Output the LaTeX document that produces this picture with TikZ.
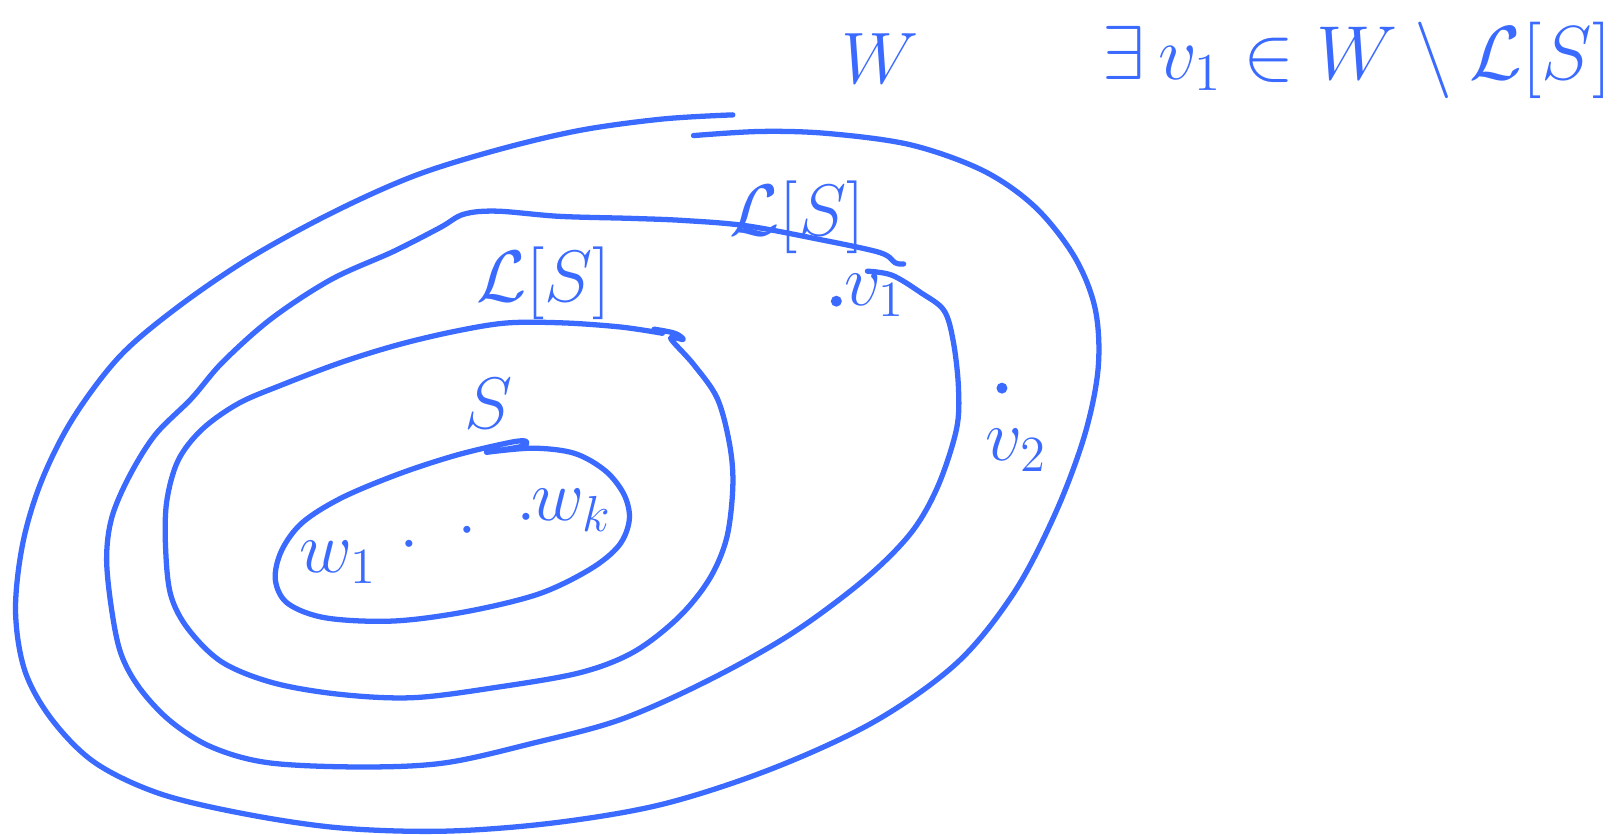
\documentclass[tikz,border=0pt]{standalone}
\usepackage{amsmath,amssymb}
\usepackage{graphicx}
\usepackage{xcolor}
\usepackage{tikz}
\definecolor{inkblue}{RGB}{58,106,255}

\begin{document}
\begin{tikzpicture}[
		x=0.1035mm, y=-0.1035mm,
		pen/.style={draw=inkblue, line width=1.5pt, line cap=round, line join=round},
		lbl/.style={text=inkblue, inner sep=0pt, font=\fontsize{21}{25}\selectfont},
		biglbl/.style={text=inkblue, inner sep=0pt, font=\fontsize{17.28}{21}\selectfont},
		pt/.style={circle, fill=inkblue, inner sep=0pt, minimum size=1.1mm}
		]
		\useasboundingbox (0,0) rectangle (1568,806);
		
		% outer region W
		\draw[pen] plot[smooth, tension=0.55] coordinates {
			(708,111) (640,115) (560,126) (480,145) (400,170) (320,206) (240,250)
			(170,298) (115,345) (70,405) (40,465) (22,525) (15,590) (24,648)
			(50,695) (92,737) (155,767) (240,787) (330,800) (430,803) (535,795)
			(640,777) (745,743) (845,697) (925,640) (980,572) (1020,495)
			(1048,420) (1061,355) (1058,298) (1038,248) (1000,200) (950,165)
			(880,140) (800,129) (735,127) (670,131)};
		
		% second curve
		\draw[pen] plot[smooth, tension=0.55] coordinates {
			(838,262) (862,266) (890,283) (912,300) (921,330) (926,375)
			(924,415) (906,470) (880,515) (835,560) (765,612) (685,657)
			(600,695) (515,718) (430,737) (350,741) (260,737) (205,722)
			(165,697) (135,665) (117,632) (108,590) (103,540) (108,500)
			(125,460) (150,420) (185,385) (215,350) (262,308) (320,270)
			(380,243) (425,220) (448,207) (480,204) (540,209) (610,211)
			(660,213) (720,218) (790,231) (850,244) (865,254) (873,255)};
		
		% S
		\draw[pen] plot[smooth, tension=0.55] coordinates {
			(632,318) (652,322) (660,328) (648,327) (670,352) (693,385)
			(705,430) (708,470) (702,520) (685,560) (655,597) (612,630)
			(560,650) (480,664) (400,674) (330,671) (265,660) (215,640)
			(182,608) (165,575) (160,530) (161,485) (172,445) (195,415)
			(230,390) (272,372) (330,350) (385,333) (440,320) (490,312)
			(545,312) (600,316) (640,322)};
		
		% inner set
		\draw[pen] plot[smooth, tension=0.55] coordinates {
			(470,437) (515,433) (555,438) (585,455) (603,478) (608,502)
			(598,527) (570,550) (520,574) (450,591) (380,600) (315,597)
			(278,583) (266,560) (272,532) (292,505) (330,481) (385,458)
			(440,440) (490,428) (507,426) (505,431) (470,437)};
		
		\node[lbl] (wlbl) at (850,57) {$W$};
		\node[biglbl] (claim) at (1311,58) {\scalebox{1.26}{$\exists\, v_1 \in W \setminus \mathcal{L}[S]$}};
		\node[lbl] (lsouter) at (770,210) {$\mathcal{L}[S]$};
		\node[lbl] (lsinner) at (525,274) {$\mathcal{L}[S]$};
		\node[lbl] (slbl) at (472,390) {$S$};
		
		\node[pt] (vone) at (808,291) {};
		\node[lbl] (vonelbl) at (845,285) {$v_1$};
		\node[pt] (vtwo) at (968,375) {};
		\node[lbl] (vtwolbl) at (982,435) {$v_2$};
		
		\node[lbl] (wone) at (327,543) {$w_1$};
		\node[lbl, rotate=13] (wdots) at (452,512) {$.\;\;.\;\;.$};
		\node[lbl] (wk) at (552,493) {$w_k$};
\end{tikzpicture}
\end{document}
